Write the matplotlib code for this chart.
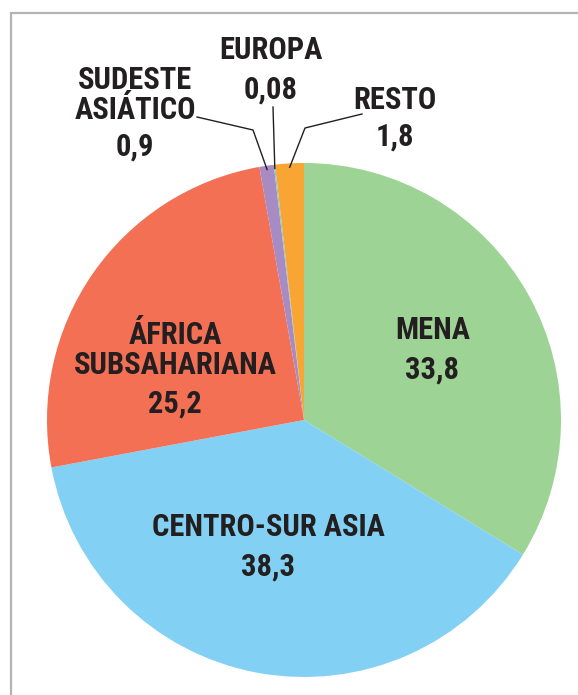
import numpy as np
import matplotlib
matplotlib.use('Agg')
import matplotlib.pyplot as plt

# Data
regions = ['MENA', 'CENTRO-SUR ASIA', 'ÁFRICA\nSUBSAHARIANA', 'SUDESTE\nASIÁTICO', 'EUROPA', 'RESTO']
shares = [33.8, 38.3, 25.2, 0.9, 0.08, 1.8]
share_labels = ['33,8', '38,3', '25,2', '0,9', '0,08', '1,8']
colors = ['#9DD394', '#82D0F4', '#F37055', '#A98BC4', '#7FCFCF', '#F9A533']

W, H = 578, 695
fig = plt.figure(figsize=(W / 100, H / 100), dpi=100)
ax = fig.add_axes([0, 0, 1, 1])

cx, cy, r = 304, H - 420, 257
wedges, _ = ax.pie(shares, colors=colors, startangle=90, counterclock=False,
                   center=(cx, cy), radius=r, frame=True,
                   wedgeprops=dict(linewidth=0))
ax.set_xlim(0, W)
ax.set_ylim(0, H)
ax.set_aspect('equal')
ax.axis('off')

# frame (only top and left edges are in view)
ax.plot([11, 11, W + 10], [-10, H - 13, H - 13], color='#b3b3b3',
        linewidth=1.6, solid_joinstyle='miter')

font = dict(family=['Roboto Condensed', 'Liberation Sans', 'DejaVu Sans'],
            fontweight='bold', color='#231F20', fontsize=22,
            ha='center', va='center')

def ty(y):
    return H - y

# inside labels: (name pos, value pos) in image px
inside = {
    0: ((433, 330), (432, 370)),
    1: ((268, 527), (268, 567)),
    2: ((175, 350), (175, 404)),
}
for i, ((nx, ny), (vx, vy)) in inside.items():
    ax.text(nx, ty(ny), regions[i], linespacing=1.0, **font)
    ax.text(vx, ty(vy), share_labels[i], **font)

# outside labels with leader lines
outside = {
    3: ((135, 95), (135, 147), [(197, 117), (253, 130)]),
    4: ((271, 50), (271, 90), [(273, 107)]),
    5: ((395, 100), (395, 137), [(362, 114), (305, 128)]),
}
cum = np.cumsum([0] + shares)
total = sum(shares)
for i, ((nx, ny), (vx, vy), pts) in outside.items():
    ax.text(nx, ty(ny), regions[i], linespacing=1.0, **font)
    ax.text(vx, ty(vy), share_labels[i], **font)
    mid = 90 - (cum[i] + shares[i] / 2) / total * 360
    ex = cx + 0.985 * r * np.cos(np.radians(mid))
    ey = cy + 0.985 * r * np.sin(np.radians(mid))
    xs = [p[0] for p in pts] + [ex]
    ys = [ty(p[1]) for p in pts] + [ey]
    ax.plot(xs, ys, color='#231F20', linewidth=1.0)

fig.savefig('out.png', dpi=100, facecolor='white')
